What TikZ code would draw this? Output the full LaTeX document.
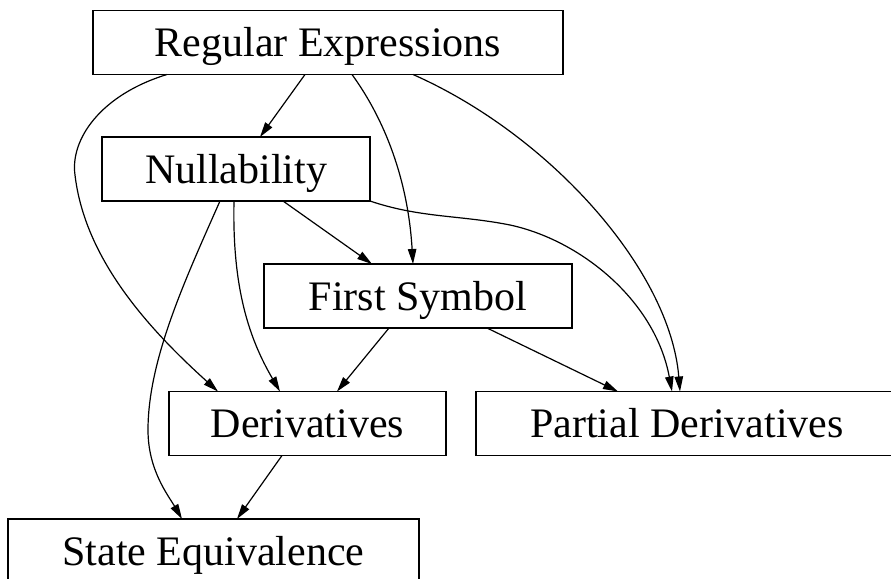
\documentclass[tikz,border=0pt]{standalone}
\usepackage{fontspec}
\setmainfont{Liberation Serif}
\usetikzlibrary{arrows.meta,calc}

\begin{document}
\begin{tikzpicture}[x=1pt,y=1pt,yscale=-1,xscale=1,
  box/.style={draw,line width=1.2pt,inner sep=0pt,outer sep=0pt,minimum height=64,
    font=\fontsize{42}{50}\selectfont,text height=28pt,text depth=0pt},
  edge/.style={line width=1.2pt,-{Triangle[length=15pt,width=8.5pt]}}]
\useasboundingbox (0,0) rectangle (891,578);
\clip (0,0) rectangle (891,578);

% Boxes
\node [box,minimum width=470] (regex) at (328,42.5) {Regular Expressions};
\node [box,minimum width=268] (nullable) at (236,169) {Nullability};
\node [box,minimum width=308] (first) at (418,296) {First Symbol};
\node [box,minimum width=277] (deriv) at (307.5,423.5) {Derivatives};
\node [box,minimum width=422] (pderiv) at (687,423.5) {Partial Derivatives};
\node [box,minimum width=411] (stateq) at (213.5,551) {State Equivalence};

% Straight Lines
\draw [edge] ($(regex.south west)+(212,0)$) -- ($(nullable.north west)+(158,0)$);
\draw [edge] ($(nullable.south west)+(181,0)$) -- ($(first.north west)+(108,0)$);
\draw [edge] ($(first.south west)+(125,0)$) -- ($(deriv.north west)+(168,0)$);
\draw [edge] ($(first.south west)+(223,0)$) -- ($(pderiv.north west)+(142,0)$);
\draw [edge] ($(deriv.south west)+(113,0)$) -- ($(stateq.north west)+(229,0)$);

% Curved Lines
\draw [edge] ($(regex.south west)+(259,0)$) .. controls (385,120) and (408,180) .. ($(first.north west)+(149,0)$);
\draw [edge] ($(regex.south west)+(320,0)$) .. controls (550,135) and (670,270) .. ($(pderiv.north west)+(204,0)$);
\draw [edge] ($(regex.south west)+(74,0)$) .. controls (100,95) and (70,140) .. (75,175)
  .. controls (85,260) and (150,330) .. ($(deriv.north west)+(49,0)$);
\draw [edge] ($(nullable.south west)+(132,0)$) .. controls (232,290) and (250,340) .. ($(deriv.north west)+(111,0)$);
\draw [edge] ($(nullable.south west)+(118,0)$) .. controls (185,280) and (148,360) .. (148,430)
  .. controls (148,470) and (168,495) .. ($(stateq.north west)+(174,0)$);
\draw [edge] (nullable.south east) .. controls (420,218) and (460,215) .. (510,225)
  .. controls (580,240) and (655,300) .. ($(pderiv.north west)+(196,0)$);

\end{tikzpicture}
\end{document}
